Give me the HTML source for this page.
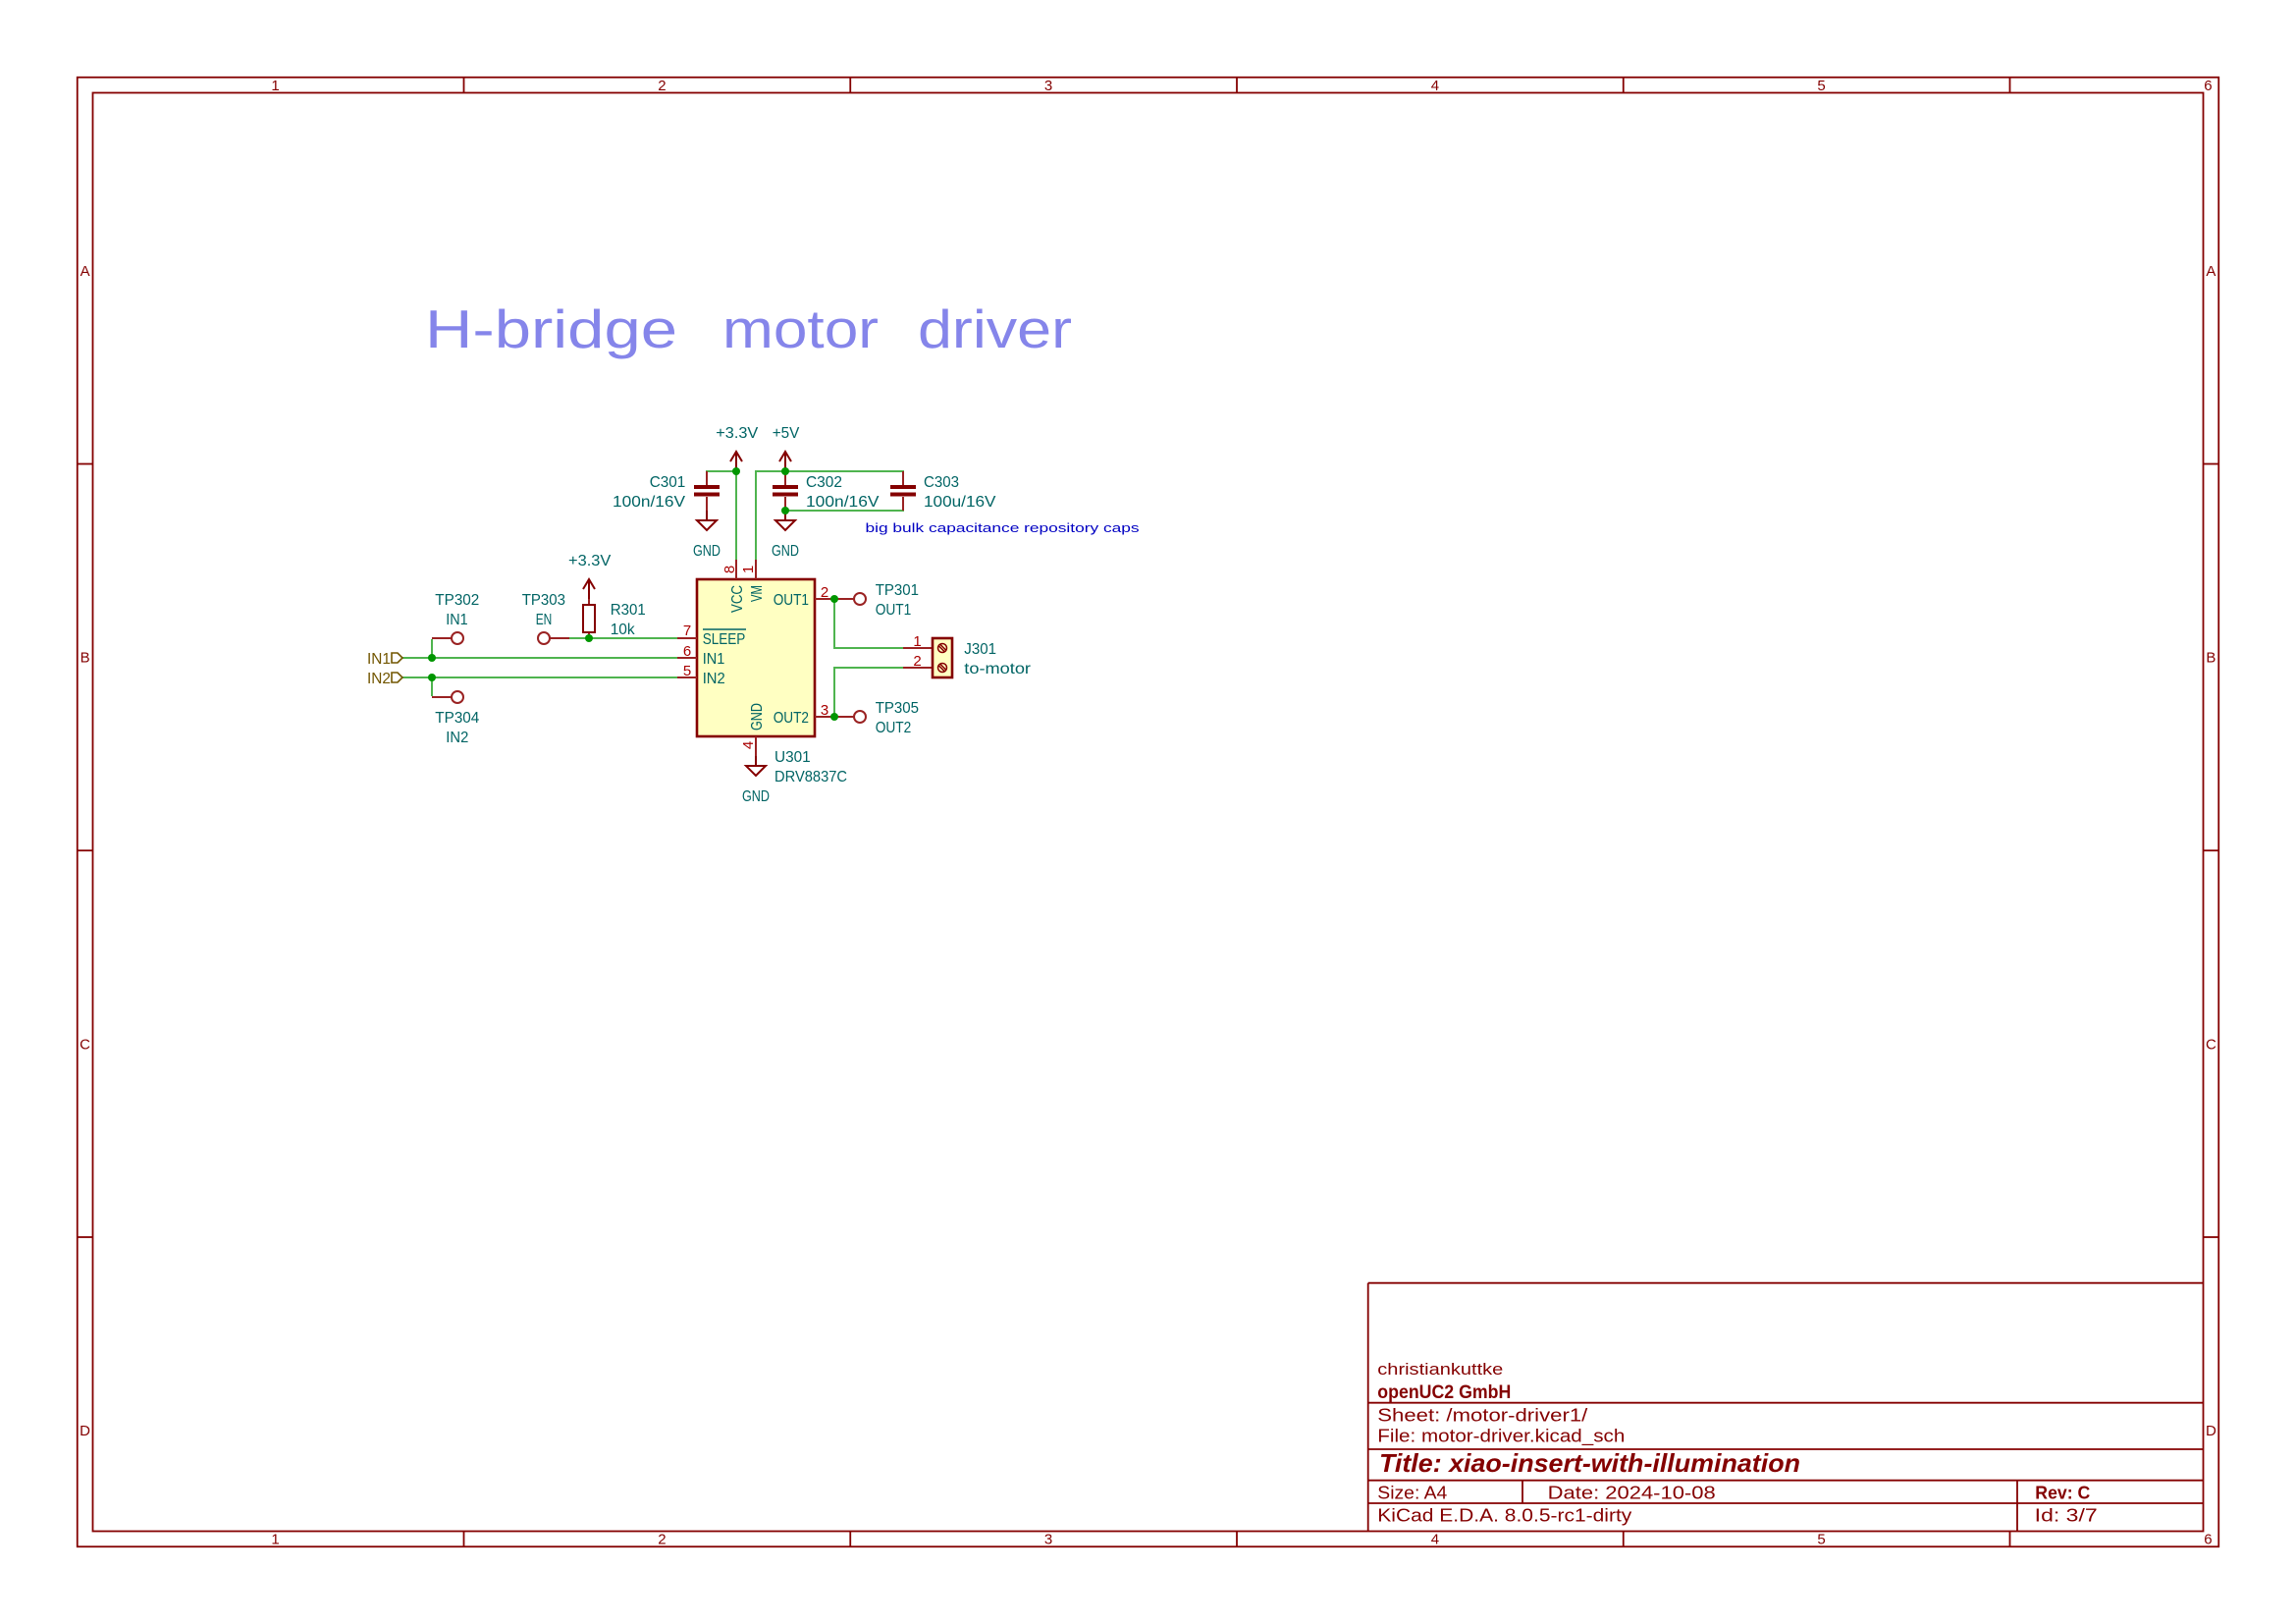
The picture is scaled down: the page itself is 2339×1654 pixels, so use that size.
<!DOCTYPE html>
<html>
<head>
<meta charset="utf-8">
<style>
  html,body{margin:0;padding:0;background:#fff;}
  body{width:2339px;height:1654px;overflow:hidden;}
  svg{display:block;}
  text{font-family:"Liberation Sans",sans-serif;}
  .t{font-size:16px;fill:#006464;}
  .pn{font-size:15px;fill:#a90000;}
  .fr{font-size:15px;fill:#840000;}
  .tb{fill:#840000;}
  .w{stroke:#4fb44f;stroke-width:2;fill:none;stroke-linecap:square;}
  .p{stroke:#9a2222;stroke-width:2;fill:none;}
  .s{stroke:#840000;stroke-width:2;fill:none;}
  .b{stroke:#840000;stroke-width:1.8;fill:none;}
  .j{fill:#009600;}
  .hl{fill:#725600;font-size:16px;}
</style>
</head>
<body>
<svg width="2339" height="1654" viewBox="0 0 2339 1654" xmlns="http://www.w3.org/2000/svg">
  <rect x="0" y="0" width="2339" height="1654" fill="#ffffff"/>

  <!-- Frame -->
  <g class="b">
    <rect x="78.75" y="78.75" width="2181.5" height="1496.5"/>
    <rect x="94.5" y="94.5" width="2150" height="1465"/>
    <line x1="472.5" y1="78.75" x2="472.5" y2="94.5"/>
    <line x1="866.25" y1="78.75" x2="866.25" y2="94.5"/>
    <line x1="1260" y1="78.75" x2="1260" y2="94.5"/>
    <line x1="1653.75" y1="78.75" x2="1653.75" y2="94.5"/>
    <line x1="2047.5" y1="78.75" x2="2047.5" y2="94.5"/>
    <line x1="472.5" y1="1559.5" x2="472.5" y2="1575.25"/>
    <line x1="866.25" y1="1559.5" x2="866.25" y2="1575.25"/>
    <line x1="1260" y1="1559.5" x2="1260" y2="1575.25"/>
    <line x1="1653.75" y1="1559.5" x2="1653.75" y2="1575.25"/>
    <line x1="2047.5" y1="1559.5" x2="2047.5" y2="1575.25"/>
    <line x1="78.75" y1="472.5" x2="94.5" y2="472.5"/>
    <line x1="78.75" y1="866.25" x2="94.5" y2="866.25"/>
    <line x1="78.75" y1="1260" x2="94.5" y2="1260"/>
    <line x1="2244.5" y1="472.5" x2="2260.25" y2="472.5"/>
    <line x1="2244.5" y1="866.25" x2="2260.25" y2="866.25"/>
    <line x1="2244.5" y1="1260" x2="2260.25" y2="1260"/>
  </g>
  <g class="fr" text-anchor="middle">
    <text x="280.6" y="92">1</text>
    <text x="674.4" y="92">2</text>
    <text x="1068.1" y="92">3</text>
    <text x="1461.9" y="92">4</text>
    <text x="1855.6" y="92">5</text>
    <text x="2249.4" y="92">6</text>
    <text x="280.6" y="1572.5">1</text>
    <text x="674.4" y="1572.5">2</text>
    <text x="1068.1" y="1572.5">3</text>
    <text x="1461.9" y="1572.5">4</text>
    <text x="1855.6" y="1572.5">5</text>
    <text x="2249.4" y="1572.5">6</text>
    <text x="86.6" y="281">A</text>
    <text x="86.6" y="674.7">B</text>
    <text x="86.6" y="1068.4">C</text>
    <text x="86.6" y="1462.2">D</text>
    <text x="2252.4" y="281">A</text>
    <text x="2252.4" y="674.7">B</text>
    <text x="2252.4" y="1068.4">C</text>
    <text x="2252.4" y="1462.2">D</text>
  </g>

  <!-- Title block -->
  <g class="b">
    <line x1="1393.7" y1="1306.7" x2="2244.5" y2="1306.7"/>
    <line x1="1393.7" y1="1306.7" x2="1393.7" y2="1559.5"/>
    <line x1="1393.7" y1="1428.7" x2="2244.5" y2="1428.7"/>
    <line x1="1393.7" y1="1476" x2="2244.5" y2="1476"/>
    <line x1="1393.7" y1="1507.7" x2="2244.5" y2="1507.7"/>
    <line x1="1393.7" y1="1531" x2="2244.5" y2="1531"/>
    <line x1="1551" y1="1507.7" x2="1551" y2="1531"/>
    <line x1="2055" y1="1507.7" x2="2055" y2="1559.5"/>
  </g>
  <g class="tb">
    <text x="1403.3" y="1400" font-size="17" textLength="128" lengthAdjust="spacingAndGlyphs">christiankuttke</text>
    <text x="1403.3" y="1424" font-size="19" font-weight="bold" textLength="136" lengthAdjust="spacingAndGlyphs">openUC2 GmbH</text>
    <text x="1403.3" y="1447.3" font-size="18" textLength="214" lengthAdjust="spacingAndGlyphs">Sheet: /motor-driver1/</text>
    <text x="1403.3" y="1468.3" font-size="18" textLength="252" lengthAdjust="spacingAndGlyphs">File: motor-driver.kicad_sch</text>
    <text x="1405" y="1499" font-size="26" font-weight="bold" font-style="italic" textLength="429" lengthAdjust="spacingAndGlyphs">Title: xiao-insert-with-illumination</text>
    <text x="1403.3" y="1526.7" font-size="18" textLength="71" lengthAdjust="spacingAndGlyphs">Size: A4</text>
    <text x="1576.7" y="1526.7" font-size="18" textLength="171" lengthAdjust="spacingAndGlyphs">Date: 2024-10-08</text>
    <text x="2073.3" y="1526.7" font-size="18" font-weight="bold" textLength="56" lengthAdjust="spacingAndGlyphs">Rev: C</text>
    <text x="1403.3" y="1549.3" font-size="18" textLength="259" lengthAdjust="spacingAndGlyphs">KiCad E.D.A. 8.0.5-rc1-dirty</text>
    <text x="2072.7" y="1549.3" font-size="18" textLength="64" lengthAdjust="spacingAndGlyphs">Id: 3/7</text>
  </g>

  <!-- Main title -->
  <g font-size="55" fill="#8585ea">
    <text x="433" y="354" textLength="257" lengthAdjust="spacingAndGlyphs">H-bridge</text>
    <text x="736" y="354" textLength="159" lengthAdjust="spacingAndGlyphs">motor</text>
    <text x="935" y="354" textLength="157" lengthAdjust="spacingAndGlyphs">driver</text>
  </g>

  <!-- Wires -->
  <g class="w">
    <polyline points="750,570 750,480 720,480"/>
    <polyline points="770,570 770,480 920,480"/>
    <line x1="800" y1="520" x2="920" y2="520"/>
    <line x1="580" y1="650" x2="690" y2="650"/>
    <line x1="410" y1="670" x2="690" y2="670"/>
    <line x1="410" y1="690" x2="690" y2="690"/>
    <line x1="440" y1="652" x2="440" y2="670"/>
    <line x1="440" y1="690" x2="440" y2="708"/>
    <polyline points="850,610 850,660 920,660"/>
    <polyline points="850,730 850,680 920,680"/>
  </g>

  <!-- IC body -->
  <rect x="710" y="590" width="120" height="160" fill="#ffffc2" stroke="#840000" stroke-width="2.6"/>
  <g class="p">
    <line x1="690" y1="650" x2="710" y2="650"/>
    <line x1="690" y1="670" x2="710" y2="670"/>
    <line x1="690" y1="690" x2="710" y2="690"/>
    <line x1="750" y1="570" x2="750" y2="590"/>
    <line x1="770" y1="570" x2="770" y2="590"/>
    <line x1="830" y1="610" x2="870" y2="610"/>
    <line x1="830" y1="730" x2="870" y2="730"/>
    <line x1="770" y1="750" x2="770" y2="770"/>
    <line x1="440" y1="650" x2="460" y2="650"/>
    <line x1="440" y1="710" x2="460" y2="710"/>
    <line x1="560" y1="650" x2="580" y2="650"/>
    <line x1="920" y1="660" x2="950" y2="660"/>
    <line x1="920" y1="680" x2="950" y2="680"/>
    <line x1="600" y1="610" x2="600" y2="616"/>
    <line x1="600" y1="644" x2="600" y2="650"/>
    <line x1="720" y1="480" x2="720" y2="494"/>
    <line x1="720" y1="506" x2="720" y2="520"/>
    <line x1="800" y1="480" x2="800" y2="494"/>
    <line x1="800" y1="506" x2="800" y2="520"/>
    <line x1="920" y1="480" x2="920" y2="494"/>
    <line x1="920" y1="506" x2="920" y2="520"/>
  </g>

  <g stroke="#9a2222" stroke-width="2" fill="none">
    <circle cx="466" cy="650" r="6"/>
    <circle cx="466" cy="710" r="6"/>
    <circle cx="554" cy="650" r="6"/>
    <circle cx="876" cy="610" r="6"/>
    <circle cx="876" cy="730" r="6"/>
  </g>

  <g stroke="#840000" stroke-width="4">
    <line x1="707" y1="496" x2="733" y2="496"/>
    <line x1="707" y1="503.5" x2="733" y2="503.5"/>
    <line x1="787" y1="496" x2="813" y2="496"/>
    <line x1="787" y1="503.5" x2="813" y2="503.5"/>
    <line x1="907" y1="496" x2="933" y2="496"/>
    <line x1="907" y1="503.5" x2="933" y2="503.5"/>
  </g>

  <rect x="594" y="616" width="12" height="28" fill="none" stroke="#840000" stroke-width="2"/>

  <g class="s">
    <line x1="750" y1="460" x2="750" y2="480"/>
    <polyline points="744,470 750,460 756,470"/>
    <line x1="800" y1="460" x2="800" y2="480"/>
    <polyline points="794,470 800,460 806,470"/>
    <line x1="600" y1="590" x2="600" y2="610"/>
    <polyline points="594,600 600,590 606,600"/>
    <line x1="720" y1="520" x2="720" y2="530"/>
    <polygon points="710,530 730,530 720,540"/>
    <line x1="800" y1="520" x2="800" y2="530"/>
    <polygon points="790,530 810,530 800,540"/>
    <line x1="770" y1="770" x2="770" y2="780"/>
    <polygon points="760,780 780,780 770,790"/>
  </g>

  <rect x="950" y="650" width="20" height="40" fill="#ffffc2" stroke="#840000" stroke-width="2.6"/>
  <g stroke="#840000" stroke-width="1.5" fill="none">
    <circle cx="960" cy="660" r="4.5"/>
    <circle cx="960" cy="680" r="4.5"/>
    <line x1="956.5" y1="658" x2="962" y2="663.5"/>
    <line x1="958" y1="656.5" x2="963.5" y2="662"/>
    <line x1="956.5" y1="678" x2="962" y2="683.5"/>
    <line x1="958" y1="676.5" x2="963.5" y2="682"/>
  </g>

  <g class="j">
    <circle cx="750" cy="480" r="4"/>
    <circle cx="800" cy="480" r="4"/>
    <circle cx="800" cy="520" r="4"/>
    <circle cx="600" cy="650" r="4"/>
    <circle cx="440" cy="670" r="4"/>
    <circle cx="440" cy="690" r="4"/>
    <circle cx="850" cy="610" r="4"/>
    <circle cx="850" cy="730" r="4"/>
  </g>

  <g stroke="#725600" stroke-width="1.6" fill="none">
    <polygon points="399,665 405,665 410,670 405,675 399,675"/>
    <polygon points="399,685 405,685 410,690 405,695 399,695"/>
  </g>
  <text class="hl" x="374" y="676" textLength="24" lengthAdjust="spacingAndGlyphs">IN1</text>
  <text class="hl" x="374" y="696" textLength="24" lengthAdjust="spacingAndGlyphs">IN2</text>

  <g class="t">
    <text x="729.3" y="446" textLength="43" lengthAdjust="spacingAndGlyphs">+3.3V</text>
    <text x="786.7" y="446" textLength="27.6" lengthAdjust="spacingAndGlyphs">+5V</text>
    <text x="661.7" y="496" textLength="36.6" lengthAdjust="spacingAndGlyphs">C301</text>
    <text x="624" y="516" textLength="74" lengthAdjust="spacingAndGlyphs">100n/16V</text>
    <text x="821" y="496" textLength="37" lengthAdjust="spacingAndGlyphs">C302</text>
    <text x="821" y="516" textLength="74.5" lengthAdjust="spacingAndGlyphs">100n/16V</text>
    <text x="941" y="496" textLength="36" lengthAdjust="spacingAndGlyphs">C303</text>
    <text x="941" y="516" textLength="73.5" lengthAdjust="spacingAndGlyphs">100u/16V</text>
    <text x="706" y="566" textLength="28" lengthAdjust="spacingAndGlyphs">GND</text>
    <text x="786" y="566" textLength="28" lengthAdjust="spacingAndGlyphs">GND</text>
    <text x="579" y="576" textLength="43.3" lengthAdjust="spacingAndGlyphs">+3.3V</text>
    <text x="621.7" y="626" textLength="36" lengthAdjust="spacingAndGlyphs">R301</text>
    <text x="621.7" y="646" textLength="25" lengthAdjust="spacingAndGlyphs">10k</text>
    <text x="443.3" y="616" textLength="45" lengthAdjust="spacingAndGlyphs">TP302</text>
    <text x="454.3" y="636" textLength="22.4" lengthAdjust="spacingAndGlyphs">IN1</text>
    <text x="531.7" y="616" textLength="44.3" lengthAdjust="spacingAndGlyphs">TP303</text>
    <text x="545.7" y="636" textLength="16.6" lengthAdjust="spacingAndGlyphs">EN</text>
    <text x="443.3" y="736" textLength="45" lengthAdjust="spacingAndGlyphs">TP304</text>
    <text x="454.3" y="756" textLength="23" lengthAdjust="spacingAndGlyphs">IN2</text>
    <text x="715.7" y="656" textLength="43.6" lengthAdjust="spacingAndGlyphs">SLEEP</text>
    <text x="715.7" y="676" textLength="22.6" lengthAdjust="spacingAndGlyphs">IN1</text>
    <text x="715.7" y="696" textLength="23" lengthAdjust="spacingAndGlyphs">IN2</text>
    <text x="787.7" y="616" textLength="36.3" lengthAdjust="spacingAndGlyphs">OUT1</text>
    <text x="787.7" y="736" textLength="36.3" lengthAdjust="spacingAndGlyphs">OUT2</text>
    <text transform="translate(756,596) rotate(-90)" text-anchor="end" textLength="28" lengthAdjust="spacingAndGlyphs">VCC</text>
    <text transform="translate(776,596) rotate(-90)" text-anchor="end" textLength="17" lengthAdjust="spacingAndGlyphs">VM</text>
    <text transform="translate(776,744) rotate(-90)" textLength="28" lengthAdjust="spacingAndGlyphs">GND</text>
    <text x="789" y="776" textLength="36.7" lengthAdjust="spacingAndGlyphs">U301</text>
    <text x="789" y="796" textLength="74" lengthAdjust="spacingAndGlyphs">DRV8837C</text>
    <text x="756" y="816" textLength="28" lengthAdjust="spacingAndGlyphs">GND</text>
    <text x="891.7" y="606" textLength="44.3" lengthAdjust="spacingAndGlyphs">TP301</text>
    <text x="891.7" y="626" textLength="36.6" lengthAdjust="spacingAndGlyphs">OUT1</text>
    <text x="891.7" y="726" textLength="44.3" lengthAdjust="spacingAndGlyphs">TP305</text>
    <text x="891.7" y="746" textLength="36.6" lengthAdjust="spacingAndGlyphs">OUT2</text>
    <text x="982.3" y="666" textLength="32.7" lengthAdjust="spacingAndGlyphs">J301</text>
    <text x="982.3" y="686" textLength="67.7" lengthAdjust="spacingAndGlyphs">to-motor</text>
  </g>
  <line x1="716" y1="641" x2="760" y2="641" stroke="#006464" stroke-width="1.5"/>

  <text x="881.5" y="542" font-size="13" fill="#0000c2" textLength="279" lengthAdjust="spacingAndGlyphs">big bulk capacitance repository caps</text>

  <g class="pn" text-anchor="middle">
    <text x="700" y="647">7</text>
    <text x="700" y="668">6</text>
    <text x="700" y="688">5</text>
    <text x="840" y="608">2</text>
    <text x="840" y="728">3</text>
    <text transform="translate(748,580) rotate(-90)">8</text>
    <text transform="translate(767,580) rotate(-90)">1</text>
    <text transform="translate(767,759) rotate(-90)">4</text>
    <text x="934.5" y="658">1</text>
    <text x="934.5" y="678">2</text>
  </g>
</svg>
</body>
</html>
